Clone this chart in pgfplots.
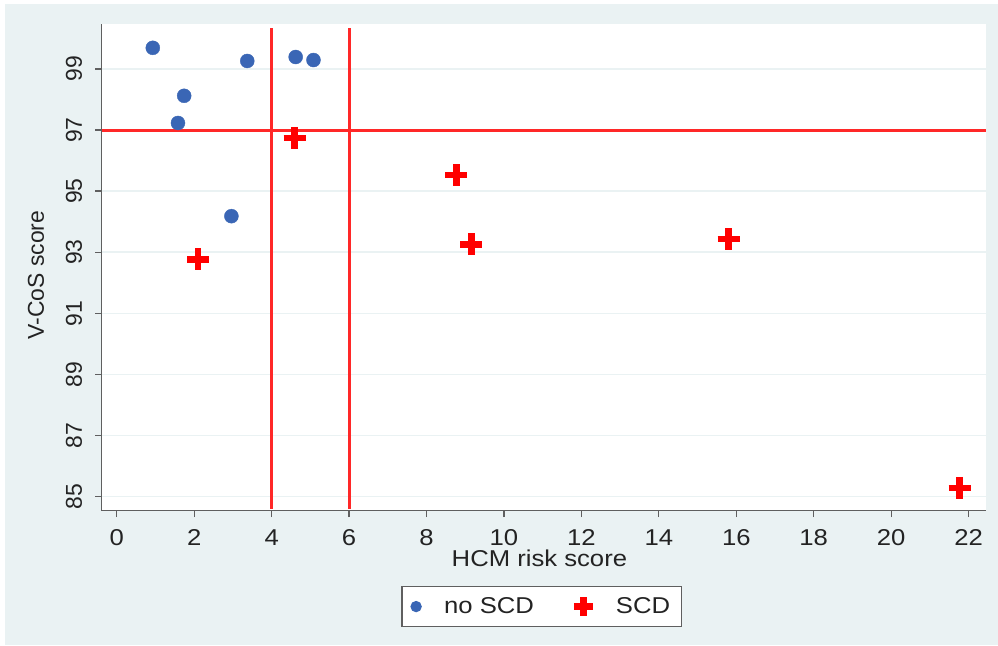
\documentclass[border=0pt]{standalone}
\usepackage{fontspec}
\setmainfont{Liberation Sans}
\newfontfamily\widefont[FakeStretch=1.12]{Liberation Sans}
\usepackage{pgfplots}
\pgfplotsset{compat=1.18}
\definecolor{bgc}{RGB}{234,242,243}
\definecolor{gridc}{RGB}{234,242,243}
\definecolor{dotc}{RGB}{58,102,181}
\definecolor{axc}{RGB}{95,95,95}
\definecolor{txc}{RGB}{35,35,35}
\definecolor{refc}{RGB}{255,40,40}
\begin{document}
\begin{tikzpicture}
\fill[white] (0,0) rectangle (998bp,646bp);
\fill[bgc] (5bp,1bp) rectangle (998bp,642bp);
\begin{axis}[
  at={(101.7bp,135.3bp)}, anchor=south west,
  scale only axis, width=884.3bp, height=486.7bp,
  xmin=-0.39, xmax=22.45, ymin=84.54, ymax=100.47,
  axis x line*=bottom, axis y line*=left,
  axis line style={draw=axc, line width=1.5bp, -},
  axis background/.style={fill=white},
  xtick={0,2,...,22}, ytick={85,87,...,99},
  tick align=outside, major tick length=6.5bp,
  tick style={draw=axc, line width=1.3bp},
  ymajorgrids, major grid style={draw=gridc, line width=1.5bp},
  /pgf/number format/assume math mode=true,
  tick label style={font=\fontsize{23}{27}\selectfont, text=txc},
  xticklabel style={inner sep=0pt, anchor=north, font=\widefont\fontsize{23}{27}\selectfont},
  yticklabel style={rotate=90, inner sep=0pt, anchor=south},
  xticklabel shift=12.6bp, yticklabel shift=13bp,
  xlabel={HCM risk score}, ylabel={V-CoS score},
  label style={font=\fontsize{23}{27}\selectfont, text=txc},
  xlabel style={at={(axis description cs:0.495,-0.115)}, anchor=base, inner sep=0pt, font=\widefont\fontsize{23}{27}\selectfont},
  ylabel style={at={(axis description cs:-0.0655,0.484)}, anchor=base, inner sep=0pt, rotate=0},
  legend style={at={(axis description cs:0.4975,-0.197)}, anchor=center,
    draw=axc, line width=1.3bp, fill=white, font=\widefont\fontsize{23}{27}\selectfont, text=txc,
    legend columns=2, inner xsep=9bp, inner ysep=9.5bp,
    /tikz/every odd column/.append style={column sep=21bp},
    /tikz/every even column/.append style={column sep=38bp}},
  legend cell align=left,
  clip=false,
]
\addplot[refc, line width=3bp, forget plot] coordinates {(4,84.60) (4,100.34)};
\addplot[refc, line width=3bp, forget plot] coordinates {(6,84.60) (6,100.34)};
\addplot[refc, line width=3bp, forget plot] coordinates {(-0.39,97) (22.45,97)};
\addplot[only marks, mark=*, mark size=7bp, color=dotc, mark options={draw=dotc, fill=dotc},
  legend image post style={mark size=5bp}] coordinates {
(0.93,99.69) (1.74,98.12) (1.58,97.23) (3.37,99.26) (2.96,94.18) (4.62,99.39) (5.08,99.29)
};
\addlegendentry{no SCD}
\addplot[only marks, mark=+, mark size=11bp, color=red, mark options={draw=red, line width=6.5bp},
  legend image post style={mark size=9.5bp}] coordinates {
(4.59,96.74) (2.10,92.77) (8.77,95.52) (9.16,93.26) (15.80,93.43) (21.77,85.29)
};
\addlegendentry{SCD}
\end{axis}
\end{tikzpicture}
\end{document}
